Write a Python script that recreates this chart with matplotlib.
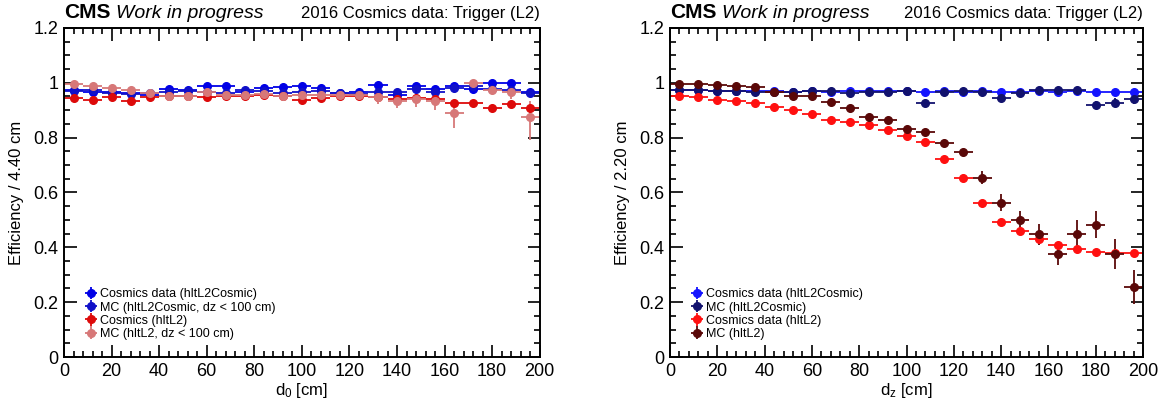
import numpy as np
import matplotlib
matplotlib.use('Agg')
import matplotlib.pyplot as plt
from matplotlib.ticker import MultipleLocator, FormatStrFormatter

plt.rcParams['font.family'] = ['Liberation Sans', 'DejaVu Sans']
plt.rcParams['mathtext.default'] = 'regular'

# bin centres (8 cm bins from 0 to 200 cm)
bins = np.arange(4, 200, 8)
half_width = 4.0

# efficiency vs d0
eff_d0_data_cosmic = [0.974, 0.967, 0.966, 0.962, 0.955, 0.978, 0.974, 0.987, 0.990, 0.968,
                      0.981, 0.984, 0.990, 0.981, 0.962, 0.968, 0.993, 0.956, 0.989, 0.977,
                      0.989, 0.977, 0.998, 0.998, 0.968]
eff_d0_mc_cosmic = [0.970, 0.972, 0.962, 0.960, 0.962, 0.968, 0.970, 0.968, 0.962, 0.972,
                    0.970, 0.962, 0.968, 0.970, 0.962, 0.960, 0.968, 0.968, 0.977, 0.968,
                    0.980, 0.989, 0.977, 0.975, 0.962]
eff_d0_data_l2 = [0.944, 0.938, 0.947, 0.932, 0.947, 0.953, 0.950, 0.947, 0.953, 0.953,
                  0.956, 0.950, 0.938, 0.944, 0.953, 0.950, 0.948, 0.940, 0.944, 0.940,
                  0.926, 0.926, 0.908, 0.922, 0.908]
eff_d0_mc_l2 = [0.995, 0.990, 0.982, 0.972, 0.962, 0.953, 0.950, 0.965, 0.956, 0.956,
                0.958, 0.950, 0.956, 0.956, 0.956, 0.956, 0.948, 0.932, 0.940, 0.932,
                0.889, 0.998, 0.975, 0.965, 0.877]
err_d0_small = [0.004] * 25
err_d0_mc_l2_lo = [0.005, 0.005, 0.005, 0.005, 0.005, 0.006, 0.006, 0.006, 0.007, 0.007,
                   0.008, 0.008, 0.009, 0.010, 0.012, 0.014, 0.025, 0.025, 0.030, 0.030,
                   0.054, 0.015, 0.015, 0.025, 0.085]
err_d0_mc_l2_hi = [0.005, 0.005, 0.005, 0.005, 0.005, 0.006, 0.006, 0.006, 0.007, 0.007,
                   0.008, 0.008, 0.009, 0.010, 0.012, 0.014, 0.020, 0.020, 0.025, 0.025,
                   0.043, 0.002, 0.015, 0.020, 0.055]

# efficiency vs dz
eff_dz_data_cosmic = [0.972, 0.972, 0.970, 0.970, 0.970, 0.970, 0.968, 0.970, 0.968, 0.970,
                      0.970, 0.970, 0.970, 0.968, 0.970, 0.968, 0.970, 0.968, 0.968, 0.970,
                      0.968, 0.970, 0.968, 0.968, 0.968]
eff_dz_mc_cosmic = [0.975, 0.975, 0.970, 0.970, 0.968, 0.968, 0.966, 0.970, 0.970, 0.962,
                    0.968, 0.968, 0.970, 0.928, 0.968, 0.970, 0.968, 0.945, 0.962, 0.972,
                    0.975, 0.972, 0.920, 0.928, 0.942]
eff_dz_data_l2 = [0.950, 0.947, 0.938, 0.932, 0.926, 0.910, 0.899, 0.885, 0.865, 0.856,
                  0.847, 0.828, 0.805, 0.785, 0.722, 0.654, 0.563, 0.493, 0.459, 0.429,
                  0.407, 0.394, 0.382, 0.380, 0.380]
eff_dz_mc_l2 = [0.995, 0.995, 0.993, 0.988, 0.984, 0.968, 0.950, 0.950, 0.930, 0.908,
                0.877, 0.865, 0.830, 0.822, 0.780, 0.748, 0.654, 0.563, 0.498, 0.447,
                0.376, 0.450, 0.483, 0.376, 0.255]
err_dz_small = [0.004] * 25
err_dz_mc_cosmic = [0.004] * 22 + [0.015, 0.015, 0.020]
err_dz_mc_l2 = [0.005, 0.005, 0.005, 0.005, 0.006, 0.006, 0.007, 0.007, 0.008, 0.008,
                0.009, 0.010, 0.010, 0.010, 0.010, 0.012, 0.024, 0.030, 0.034, 0.038,
                0.040, 0.050, 0.050, 0.055, 0.062]


def draw(ax, y, yerr, color, label):
    return ax.errorbar(bins, y, xerr=half_width, yerr=yerr, fmt='o', ms=5.5,
                       color=color, ecolor=color, elinewidth=1.3, capsize=0,
                       label=label)


def style(ax, xlabel, ylabel, title_right):
    ax.set_xlim(0, 200)
    ax.set_ylim(0, 1.2)
    ax.xaxis.set_major_locator(MultipleLocator(20))
    ax.xaxis.set_minor_locator(MultipleLocator(4))
    ax.yaxis.set_major_locator(MultipleLocator(0.2))
    ax.yaxis.set_minor_locator(MultipleLocator(0.05))
    ax.yaxis.set_major_formatter(FormatStrFormatter('%g'))
    ax.tick_params(which='both', direction='in', top=True, right=True,
                   width=1.2, labelsize=13, pad=4)
    ax.tick_params(which='major', length=9)
    ax.tick_params(which='minor', length=4.5)
    for s in ax.spines.values():
        s.set_linewidth(1.4)
    ax.set_xlabel(xlabel, fontsize=12, labelpad=1)
    ax.set_ylabel(ylabel, fontsize=12, labelpad=7)
    cms = ax.text(0.0, 1.03, 'CMS', transform=ax.transAxes, fontsize=15,
                  fontweight='bold', ha='left', va='baseline')
    ax.annotate('Work in progress', xy=(1, 0), xycoords=cms,
                xytext=(4, 0), textcoords='offset points',
                fontsize=14, style='italic', ha='left', va='bottom')
    ax.text(1.0, 1.03, title_right, transform=ax.transAxes, fontsize=12,
            ha='right', va='baseline')


fig = plt.figure(figsize=(11.66, 4.05), dpi=100)
ax1 = fig.add_axes([0.0549, 0.1185, 0.408, 0.8125])
ax2 = fig.add_axes([0.5746, 0.1185, 0.4057, 0.8125])

draw(ax1, eff_d0_data_cosmic, err_d0_small, '#0000e6', 'Cosmics data (hltL2Cosmic)')
draw(ax1, eff_d0_mc_cosmic, err_d0_small, '#1010c8', 'MC (hltL2Cosmic, dz < 100 cm)')
draw(ax1, eff_d0_data_l2, err_d0_small, '#dd0a0a', 'Cosmics (hltL2)')
draw(ax1, eff_d0_mc_l2, [err_d0_mc_l2_lo, err_d0_mc_l2_hi], '#d77878',
     'MC (hltL2, dz < 100 cm)')
style(ax1, 'd$_0$ [cm]', 'Efficiency / 4.40 cm', '2016 Cosmics data: Trigger (L2)')

draw(ax2, eff_dz_data_cosmic, err_dz_small, '#1414ff', 'Cosmics data (hltL2Cosmic)')
draw(ax2, eff_dz_mc_cosmic, err_dz_mc_cosmic, '#12126e', 'MC (hltL2Cosmic)')
draw(ax2, eff_dz_data_l2, err_dz_small, '#ff1010', 'Cosmics data (hltL2)')
draw(ax2, eff_dz_mc_l2, err_dz_mc_l2, '#5a0808', 'MC (hltL2)')
style(ax2, 'd$_z$ [cm]', 'Efficiency / 2.20 cm', '2016 Cosmics data: Trigger (L2)')

for ax in (ax1, ax2):
    ax.legend(loc='lower left', bbox_to_anchor=(0.025, 0.025), frameon=False,
              fontsize=9, handlelength=1.0, handletextpad=0.2,
              labelspacing=0.1, borderpad=0.2)

fig.savefig('out.png', dpi=100)
